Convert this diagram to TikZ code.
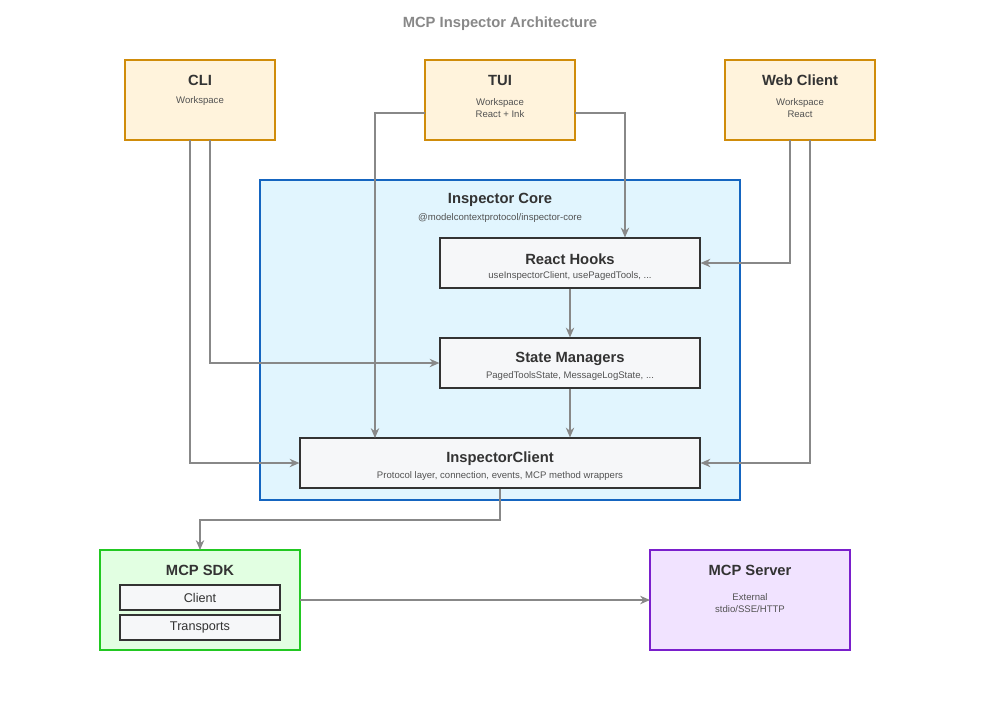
\documentclass[tikz,border=0pt]{standalone}
\usepackage{fontspec}
\setmainfont{Liberation Sans}
\usepackage{tikz}
\usetikzlibrary{positioning,calc,arrows.meta}

\definecolor{appfill}{HTML}{FFF3DC}
\definecolor{appline}{HTML}{D08C0A}
\definecolor{corefill}{HTML}{E1F5FE}
\definecolor{coreline}{HTML}{1565C0}
\definecolor{boxfill}{HTML}{F6F7F9}
\definecolor{sdkfill}{HTML}{E2FFE2}
\definecolor{sdkline}{HTML}{22C822}
\definecolor{srvfill}{HTML}{F1E3FF}
\definecolor{srvline}{HTML}{7A1FCC}
\definecolor{wire}{HTML}{888888}
\definecolor{ink}{HTML}{333333}

\tikzset{
  appbox/.style={draw=appline, fill=appfill, thick, minimum width=150*0.025cm, minimum height=80*0.025cm},
  innerbox/.style={draw=ink, fill=boxfill, thick},
  wirearrow/.style={draw=wire, thick, -{Stealth[length=7pt,width=6pt]}},
  head/.style={font=\bfseries\fontsize{10.5}{12}\selectfont, text=ink},
  sub/.style={font=\fontsize{6.8}{8.5}\selectfont, text=ink!85}
}

\begin{document}
\begin{tikzpicture}[x=0.025cm, y=-0.025cm]
  \useasboundingbox (0,0) rectangle (1000,700);
  \node[font=\bfseries\fontsize{10.5}{12}\selectfont, text=wire] (title) at (500,24) {MCP Inspector Architecture};

  % apps
  \node[appbox] (cli) at (200,100) {};
  \node[head] at (200,80) {CLI};
  \node[sub] at (200,101) {Workspace};
  \node[appbox] (tui) at (500,100) {};
  \node[head] at (500,80) {TUI};
  \node[sub, align=center] at (500,108) {Workspace\\React + Ink};
  \node[appbox] (web) at (800,100) {};
  \node[head] at (800,80) {Web Client};
  \node[sub, align=center] at (800,108) {Workspace\\React};

  % core
  \draw[coreline, fill=corefill, thick] (260,180) rectangle (740,500);
  \node[head] (core) at (500,200) {Inspector Core};
  \node[sub] at (500,218) {@modelcontextprotocol/inspector-core};

  \node[innerbox, minimum width=260*0.025cm, minimum height=50*0.025cm] (hooks) at (570,263) {};
  \node[head] at (570,259) {React Hooks};
  \node[sub] at (570,276) {useInspectorClient, usePagedTools, ...};
  \node[innerbox, minimum width=260*0.025cm, minimum height=50*0.025cm] (state) at (570,363) {};
  \node[head] at (570,359) {State Managers};
  \node[sub] at (570,376) {PagedToolsState, MessageLogState, ...};
  \node[innerbox, minimum width=400*0.025cm, minimum height=50*0.025cm] (client) at (500,463) {};
  \node[head] at (500,459) {InspectorClient};
  \node[sub] at (500,476) {Protocol layer, connection, events, MCP method wrappers};

  % sdk and server
  \draw[sdkline, fill=sdkfill, thick] (100,550) rectangle (300,650);
  \coordinate (sdk) at (200,550);
  \node[head] at (200,570) {MCP SDK};
  \node[innerbox, minimum width=160*0.025cm, minimum height=25*0.025cm, font=\fontsize{9}{10}\selectfont, text=ink] (sdkclient) at (200,597.5) {Client};
  \node[innerbox, minimum width=160*0.025cm, minimum height=25*0.025cm, font=\fontsize{9}{10}\selectfont, text=ink] (transports) at (200,627.5) {Transports};
  \draw[srvline, fill=srvfill, thick] (650,550) rectangle (850,650);
  \coordinate (server) at (650,600);
  \node[head] at (750,570) {MCP Server};
  \node[sub, align=center] at (750,603) {External\\stdio/SSE/HTTP};

  % connectors
  \draw[wirearrow] (190,140) |- (client.west);
  \draw[wirearrow] (210,140) |- (state.west);
  \draw[wirearrow] (425,113) -| (375,438);
  \draw[wirearrow] (575,113) -| (hooks.north -| 625,0);
  \draw[wirearrow] (790,140) |- (hooks.east);
  \draw[wirearrow] (810,140) |- (client.east);
  \draw[wirearrow] (hooks) -- (state);
  \draw[wirearrow] (state) -- (state.south |- client.north);
  \draw[wirearrow] (client.south) -- (500,520) -| (sdk);
  \draw[wirearrow] (300,600) -- (server);
\end{tikzpicture}
\end{document}
